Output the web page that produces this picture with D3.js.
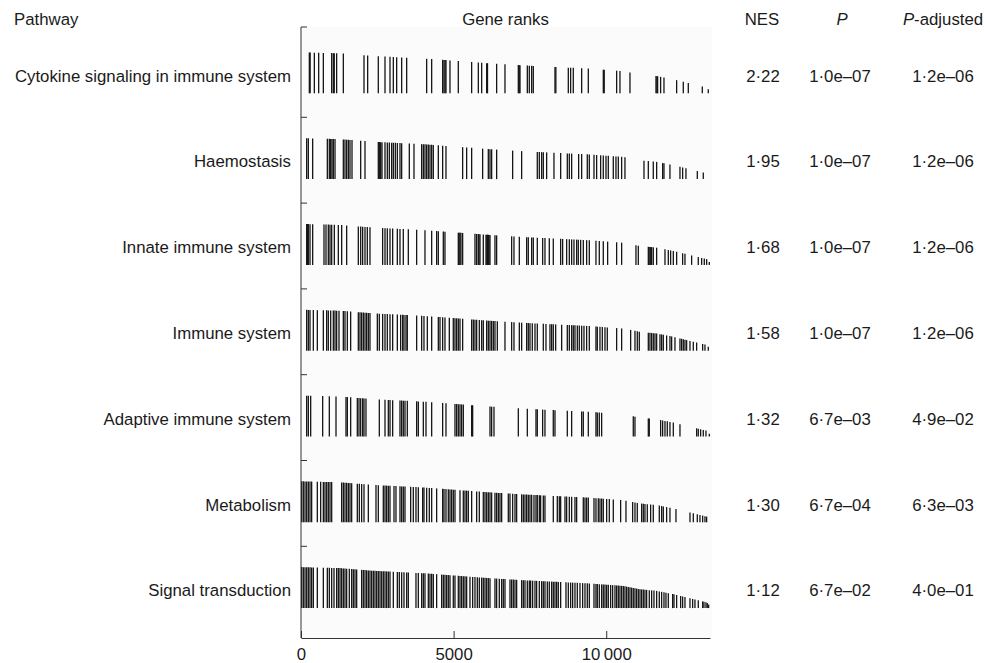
<!DOCTYPE html>
<html lang="en">
<head>
<meta charset="utf-8">
<title>Gene set enrichment table</title>
<style>
  body { margin: 0; background: #fff; }
  text { font-family: "Liberation Sans", Arial, sans-serif; font-size: 16.8px; fill: #1a1a1a; }
</style>
</head>
<body>
<script src="https://cdn.jsdelivr.net/npm/d3@7"></script>
<script>

  // pathways and their stats
  var pathways = ["Cytokine signaling in immune system", "Haemostasis", "Innate immune system",
                  "Immune system", "Adaptive immune system", "Metabolism", "Signal transduction"];
  var nes  = [2.22, 1.95, 1.68, 1.58, 1.32, 1.30, 1.12];
  var pval = [1.0e-7, 1.0e-7, 1.0e-7, 1.0e-7, 6.7e-3, 6.7e-4, 6.7e-2];
  var padj = [1.2e-6, 1.2e-6, 1.2e-6, 1.2e-6, 4.9e-2, 6.3e-3, 4.0e-1];

  // ranking statistic (normalised) read at some ranks
  var statRanks  = [0, 1280, 2370, 4010, 5100, 6190, 7280, 8380, 9470, 10560, 11110, 11650, 12200, 12740, 13290, 13400];
  var statValues = [1.0, 0.975, 0.91, 0.85, 0.79, 0.73, 0.68, 0.64, 0.60, 0.54, 0.46, 0.42, 0.34, 0.24, 0.14, 0.05];

  var nGenes = 13400;
  var xTicks = [0, 5000, 10000];

  // gene ranks of each pathway
  var ranksCytokine = [273, 300, 437, 579, 732, 1005, 1059, 1090, 1168, 1387, 2064, 2184, 2533, 2752, 2916, 3025, 3134,
    3298, 3462, 4117, 4281, 4641, 4685, 4720, 4750, 4881, 5154, 5591, 5810, 5919, 6083, 6110, 6410, 6683, 7120, 7150,
    7175, 7415, 7480, 7557, 7611, 8321, 8350, 8758, 8834, 8921, 9195, 9413, 9905, 9935, 10341, 10450, 10778, 11630,
    11660, 11684, 11782, 11892, 12307, 12525, 12689, 13148, 13344];
  var ranksHaemo = [186, 240, 382, 863, 928, 972, 1016, 1059, 1114, 1387, 1441, 1496, 1551, 1605, 1671, 1955, 2097, 2533,
    2566, 2610, 2654, 2752, 2828, 2894, 2970, 3025, 3090, 3156, 3243, 3298, 3549, 3702, 3953, 4008, 4062, 4117, 4171,
    4226, 4281, 4335, 4499, 4641, 4750, 5296, 5427, 5591, 5951, 6137, 6192, 6246, 6410, 6934, 7229, 7742, 7808, 7884,
    7939, 8048, 8288, 8507, 8725, 8791, 8867, 9096, 9195, 9380, 9446, 9599, 9686, 9817, 9904, 9992, 10068, 10232,
    10319, 10396, 10505, 10614, 11237, 11379, 11542, 11652, 11848, 11892, 12088, 12416, 12503, 12612, 12984, 13180];
  var ranksInnate = [186, 213, 240, 295, 382, 753, 819, 895, 950, 1005, 1092, 1223, 1332, 1496, 1878, 1955, 2020, 2097,
    2173, 2260, 2675, 2752, 2828, 2916, 3003, 3156, 3243, 3352, 3516, 3789, 4062, 4281, 4444, 4499, 4663, 4717, 5154,
    5180, 5209, 5240, 5296, 5700, 5755, 5809, 5830, 5864, 5973, 6061, 6090, 6110, 6137, 6160, 6192, 6355, 6410, 6901,
    6978, 7153, 7393, 7447, 7557, 7611, 7742, 7917, 7993, 8135, 8266, 8507, 8572, 8703, 8791, 8867, 8943, 9031, 9085,
    9162, 9249, 9358, 9446, 9664, 9773, 9904, 10046, 10341, 10505, 10974, 11051, 11379, 11400, 11433, 11460, 11488,
    11542, 11652, 11925, 12034, 12110, 12198, 12307, 12503, 12580, 12798, 13016, 13126, 13213, 13290, 13377];
  var ranksImmune = [186, 240, 295, 404, 535, 732, 841, 895, 972, 1059, 1114, 1168, 1245, 1387, 1441, 1518, 1627, 1878,
    1933, 1987, 2042, 2097, 2151, 2206, 2260, 2501, 2566, 2675, 2752, 2828, 2916, 3003, 3156, 3265, 3331, 3374, 3440,
    3483, 3789, 3953, 4029, 4139, 4281, 4499, 4554, 4641, 4717, 4859, 4990, 5045, 5100, 5154, 5209, 5296, 5591, 5646,
    5700, 5755, 5842, 5919, 5973, 6083, 6137, 6192, 6246, 6301, 6355, 6432, 6683, 6901, 6978, 7153, 7229, 7393, 7447,
    7502, 7578, 7666, 7742, 7939, 8026, 8157, 8212, 8266, 8343, 8540, 8725, 8791, 8867, 8921, 8976, 9053, 9118, 9195,
    9271, 9358, 9446, 9664, 9708, 9795, 9872, 9959, 10035, 10341, 10505, 10800, 10942, 11018, 11084, 11379, 11433,
    11488, 11542, 11597, 11652, 11761, 11815, 11870, 11979, 12088, 12143, 12252, 12416, 12471, 12525, 12580, 12634,
    12744, 12853, 12962, 13159, 13235, 13344];
  var ranksAdaptive = [186, 240, 317, 710, 928, 1147, 1474, 1518, 1627, 1845, 1900, 1955, 2020, 2064, 2129, 2566, 2752,
    2861, 2916, 3003, 3243, 3298, 3352, 3407, 3483, 3789, 3844, 4008, 4095, 4281, 4641, 4750, 5045, 5100, 5154, 5209,
    5263, 5318, 5591, 5624, 6192, 6246, 6323, 7120, 7415, 7699, 7742, 7917, 7993, 8266, 8321, 8725, 8867, 9195, 9249,
    9413, 9664, 9708, 9773, 9850, 10887, 10942, 11379, 11411, 11783, 11848, 11925, 12001, 12088, 12198, 12416, 12962,
    13016, 13093, 13180, 13268, 13377];
  var ranksMetab = [22, 76, 131, 186, 240, 295, 349, 535, 644, 732, 786, 841, 895, 950, 1005, 1332, 1387, 1441, 1496,
    1551, 1605, 1660, 1845, 1911, 1987, 2064, 2206, 2457, 2533, 2697, 2752, 2806, 2861, 2916, 3047, 3112, 3243, 3298,
    3352, 3407, 3593, 3680, 3767, 3844, 3986, 4029, 4117, 4204, 4281, 4444, 4641, 4685, 4750, 4826, 4881, 4936, 4990,
    5045, 5209, 5318, 5373, 5427, 5482, 5591, 5755, 5842, 5973, 6028, 6083, 6137, 6192, 6246, 6355, 6410, 6465, 6519,
    6574, 6792, 6847, 6934, 7011, 7065, 7229, 7284, 7338, 7393, 7447, 7502, 7557, 7633, 7699, 7742, 7808, 7851, 7939,
    7993, 8266, 8397, 8463, 8507, 8649, 8703, 8791, 8867, 8976, 9031, 9249, 9304, 9358, 9413, 9599, 9664, 9740, 9795,
    9850, 9904, 10014, 10101, 10232, 10472, 10647, 10865, 10942, 11018, 11160, 11215, 11269, 11346, 11455, 11542,
    11739, 11815, 11870, 11979, 12088, 12285, 12744, 12853, 12984, 13071, 13159, 13235, 13290];
  var ranksSignal = [22, 76, 131, 186, 240, 295, 349, 404, 535, 732, 863, 928, 1005, 1081, 1168, 1223, 1278, 1332, 1387,
    1441, 1496, 1583, 1660, 1714, 1769, 1824, 1987, 2042, 2097, 2151, 2206, 2260, 2315, 2370, 2424, 2479, 2533, 2588,
    2643, 2697, 2752, 2806, 2861, 2916, 3025, 3156, 3221, 3298, 3374, 3462, 3516, 3767, 3844, 3953, 4008, 4062, 4171,
    4226, 4281, 4335, 4444, 4608, 4663, 4717, 4772, 4826, 4881, 4990, 5045, 5154, 5209, 5263, 5318, 5373, 5427, 5536,
    5624, 5700, 5777, 5842, 5919, 5973, 6028, 6083, 6137, 6192, 6355, 6410, 6497, 6574, 6628, 6683, 6847, 6901, 6956,
    7011, 7065, 7229, 7284, 7338, 7415, 7480, 7524, 7589, 7666, 7720, 7808, 7884, 7939, 7993, 8070, 8135, 8212, 8266,
    8321, 8376, 8430, 8507, 8681, 8758, 8834, 8900, 8976, 9053, 9140, 9227, 9304, 9380, 9446, 9599, 9664, 9708, 9773,
    9850, 9904, 9959, 10014, 10068, 10145, 10210, 10287, 10341, 10396, 10450, 10505, 10560, 10614, 10669, 10723,
    10778, 10833, 10887, 10942, 10996, 11051, 11106, 11160, 11215, 11269, 11324, 11411, 11488, 11564, 11652, 11739,
    11815, 11892, 11957, 12034, 12176, 12220, 12307, 12438, 12503, 12580, 12744, 12831, 12907, 13016, 13159, 13202,
    13268, 13311, 13355];

  var geneRanks = [ranksCytokine, ranksHaemo, ranksInnate, ranksImmune, ranksAdaptive, ranksMetab, ranksSignal];

  // dimensions
  var w = 986;
  var h = 663;
  var panelTop = 27;
  var panelBottom = 638;
  var barMax = 41;

  var x = d3.scaleLinear().domain([0, nGenes]).range([301, 710]);
  var y = d3.scaleBand().domain(d3.range(pathways.length)).range([31.5, 632.1]);
  var stat = d3.scaleLinear().domain(statRanks).range(statValues);

  var svg = d3.select("body").append("svg").attr("width", w).attr("height", h);

  // panel background
  svg.append("rect")
    .attr("x", x(0)).attr("y", panelTop)
    .attr("width", x(nGenes) - x(0) + 2).attr("height", panelBottom - panelTop)
    .attr("fill", "#fbfbfb");

  // headers
  svg.append("text").text("Pathway").attr("x", 14).attr("y", 25);
  svg.append("text").text("Gene ranks").attr("x", (x(0) + x(nGenes)) / 2).attr("y", 25).attr("text-anchor", "middle");
  svg.append("text").text("NES").attr("x", 762).attr("y", 25).attr("text-anchor", "middle");
  svg.append("text").text("P").attr("x", 842).attr("y", 25).attr("text-anchor", "middle").style("font-style", "italic");
  var padjHead = svg.append("text").attr("x", 943).attr("y", 25).attr("text-anchor", "middle");
  padjHead.append("tspan").text("P").style("font-style", "italic");
  padjHead.append("tspan").text("-adjusted");

  // formatters with the mid dot style
  var fmtNes = function(v) { return d3.format(".2f")(v).replace(".", "\u00b7"); };
  var fmtSci = function(v) {
    var parts = d3.format(".1e")(v).split("e");
    var ex = +parts[1];
    var exStr = (ex < 0 ? "\u2013" : "+") + d3.format("02d")(Math.abs(ex));
    return parts[0].replace(".", "\u00b7") + "e" + exStr;
  };

  var rows = svg.selectAll("g.row")
    .data(pathways)
    .enter()
    .append("g")
    .attr("class", "row")
    .attr("transform", function(d, i) { return "translate(0," + y(i) + ")"; });

  rows.append("text")
    .text(function(d) { return d; })
    .attr("x", 291).attr("y", 50.2)
    .attr("text-anchor", "end");

  rows.append("text")
    .text(function(d, i) { return fmtNes(nes[i]); })
    .attr("x", 763).attr("y", 50.2).attr("text-anchor", "middle");
  rows.append("text")
    .text(function(d, i) { return fmtSci(pval[i]); })
    .attr("x", 840).attr("y", 50.2).attr("text-anchor", "middle");
  rows.append("text")
    .text(function(d, i) { return fmtSci(padj[i]); })
    .attr("x", 943).attr("y", 50.2).attr("text-anchor", "middle");

  // barcode segments, heights follow the ranking statistic
  rows.each(function(d, i) {
    d3.select(this).selectAll("line.bar")
      .data(geneRanks[i])
      .enter()
      .append("line")
      .attr("class", "bar")
      .attr("x1", function(r) { return x(r); })
      .attr("x2", function(r) { return x(r); })
      .attr("y1", 61.8)
      .attr("y2", function(r) { return 61.8 - barMax * stat(r); })
      .attr("stroke", "#151515")
      .attr("stroke-width", 1.3);
  });

  // left axis with a tick per row
  var axisCol = "#333";
  svg.append("line")
    .attr("x1", x(0)).attr("x2", x(0))
    .attr("y1", panelTop).attr("y2", panelBottom)
    .attr("stroke", axisCol).attr("stroke-width", 1);
  var rowTicks = [panelTop].concat(d3.range(1, pathways.length).map(function(i) { return y(i); }));
  svg.selectAll("line.rtick")
    .data(rowTicks)
    .enter()
    .append("line")
    .attr("class", "rtick")
    .attr("x1", x(0)).attr("x2", x(0) + 6)
    .attr("y1", function(d) { return d; }).attr("y2", function(d) { return d; })
    .attr("stroke", axisCol).attr("stroke-width", 1);

  // x axis
  var xAxis = d3.axisBottom(x)
    .tickValues(xTicks)
    .tickSizeInner(-7)
    .tickSizeOuter(0)
    .tickPadding(10)
    .tickFormat(function(d) { return d >= 10000 ? d3.format(",")(d).replace(",", "\u2009") : String(d); });

  var gx = svg.append("g")
    .attr("transform", "translate(0," + panelBottom + ")")
    .call(xAxis);
  gx.select(".domain").attr("stroke", axisCol);
  gx.selectAll(".tick line").attr("stroke", axisCol);
  gx.selectAll(".tick text")
    .style("font-family", "'Liberation Sans', Arial, sans-serif")
    .style("font-size", "16.8px")
    .attr("fill", "#1a1a1a");

</script>
</body>
</html>
